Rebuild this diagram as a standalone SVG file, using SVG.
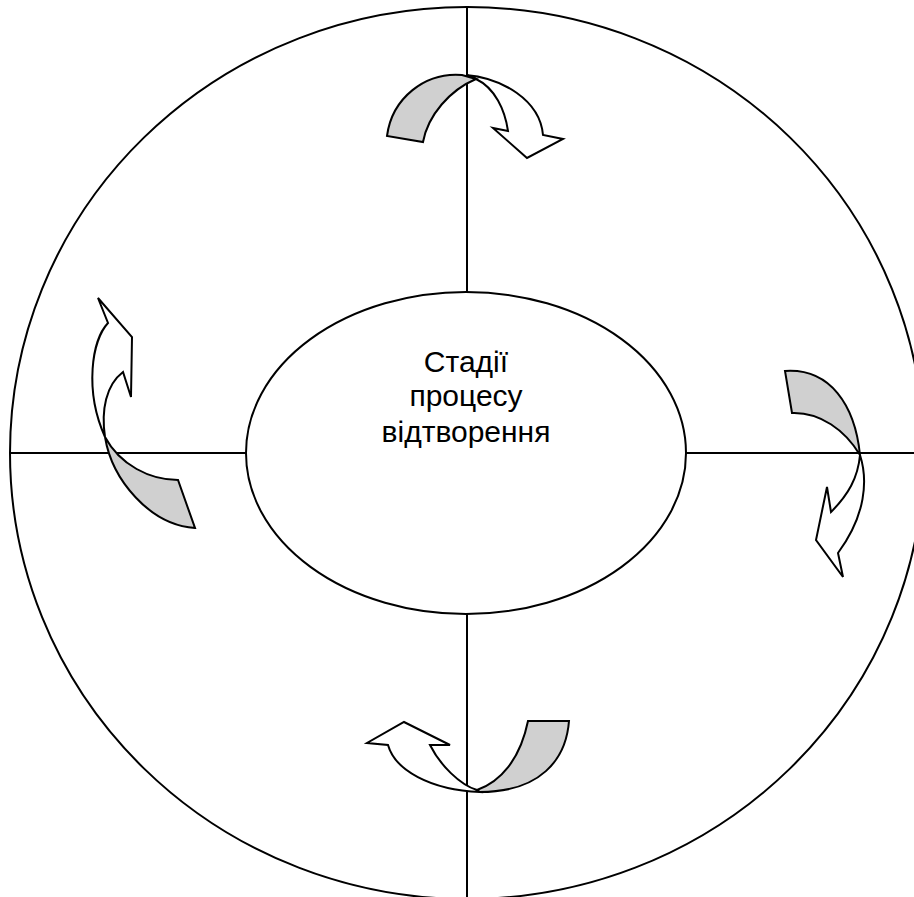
<svg xmlns="http://www.w3.org/2000/svg" width="914" height="897" viewBox="0 0 914 897">
<style>
.ln{stroke:#000;stroke-width:2;fill:none}
.sh{stroke:#000;stroke-width:2;fill:#fff;stroke-linejoin:miter}
.g{fill:#d0d0d0}
.t{font-family:"Liberation Sans",Arial,sans-serif;font-size:30px;fill:#000;text-anchor:middle}
</style>
<rect width="914" height="897" fill="#fff"/>
<g id="outer-circle">
<ellipse cx="467" cy="453" rx="457" ry="446" class="ln"/>
</g>
<g id="connectors">
<line x1="467" y1="7" x2="467" y2="292" class="ln"/>
<line x1="467" y1="614" x2="467" y2="897" class="ln"/>
<line x1="10" y1="453" x2="246" y2="453" class="ln"/>
<line x1="686" y1="453" x2="914" y2="453" class="ln"/>
</g>
<g id="center">
<ellipse cx="466" cy="453" rx="220" ry="161" class="sh"/>
<text class="t" x="466" y="372">Стадії</text>
<text class="t" x="466" y="406">процесу</text>
<text class="t" x="466" y="442">відтворення</text>
</g>
<g id="arrow-top">
<path class="sh" d="M466,75 C502,78 540,100 543,135 L563,139 L527,158 L493,128 L508,131 C505,110 495,88 476,79 Z"/>
<path class="sh g" d="M387,136 C392,98 425,72 462,75 L476,79 C450,90 428,115 423,142 Z"/>
</g>
<g id="arrow-right">
<path class="sh g" d="M785,371 C830,368 855,405 860,455 C845,430 820,412 792,413 Z"/>
<path class="sh" d="M860,455 C868,480 866,515 838,553 L843,577 L816,540 L827,487 L831,512 C848,495 858,478 860,455 Z"/>
</g>
<g id="arrow-bottom">
<path class="sh" d="M388,745 C395,770 430,790 480,792 L477,790 C460,785 440,765 430,745 L450,745 L404,722 L367,743 Z"/>
<path class="sh g" d="M477,790 C500,782 520,760 528,721 L569,721 C566,760 540,792 480,792 Z"/>
</g>
<g id="arrow-left">
<path class="sh" d="M108,323 C92,340 84,390 105,437 C101,410 106,385 123,372 L131,397 L132,337 L98,298 Z"/>
<path class="sh g" d="M105,437 C112,480 150,525 195,528 L178,480 C150,480 120,465 105,437 Z"/>
</g>
</svg>
